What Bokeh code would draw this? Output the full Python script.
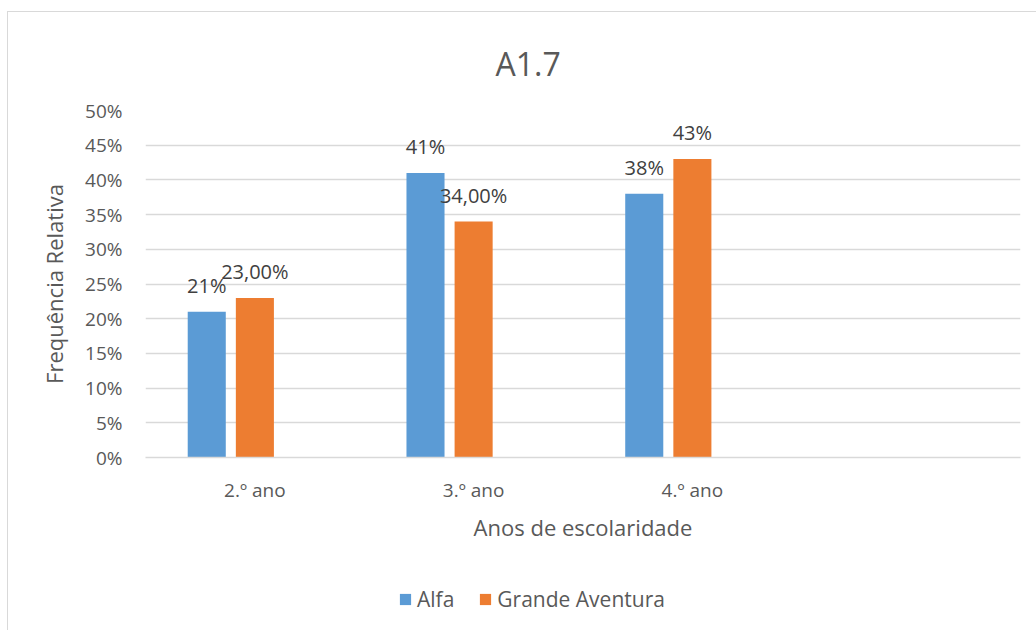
from bokeh.plotting import figure
from bokeh.layouts import column
from bokeh.models import (FactorRange, Range1d, NumeralTickFormatter, FixedTicker,
                          ColumnDataSource, LabelSet, Legend, LegendItem)
from bokeh.transform import dodge
from bokeh.core.properties import value
from bokeh.embed import file_html
from bokeh.resources import INLINE

# ---- data ----
title_text = "A1.7"
categories = ["2.º ano", "3.º ano", "4.º ano", " "]
bar_categories = ["2.º ano", "3.º ano", "4.º ano"]
series_names = ["Alfa", "Grande Aventura"]
alfa = [0.21, 0.41, 0.38]
grande = [0.23, 0.34, 0.43]
alfa_labels = ["21%", "41%", "38%"]
grande_labels = ["23,00%", "34,00%", "43%"]
y_ticks = [0.0, 0.05, 0.10, 0.15, 0.20, 0.25, 0.30, 0.35, 0.40, 0.45, 0.50]
x_title = "Anos de escolaridade"
y_title = "Frequência Relativa"

BLUE = "#5B9BD5"
ORANGE = "#ED7D31"
TEXT = "#595959"
LABEL = "#404040"
GRID = "#D9D9D9"
FONT = "Open Sans"

# ---------------- main chart ----------------
p = figure(width=1028, height=548,
           x_range=FactorRange(*categories, range_padding=0),
           y_range=Range1d(0, 0.5),
           output_backend="svg", toolbar_location=None,
           min_border_left=137, min_border_right=16,
           min_border_top=98, min_border_bottom=103)
p.outline_line_color = None
p.background_fill_color = "white"
p.border_fill_color = "white"

p.title.text = title_text
p.title.align = "left"
p.title.offset = 350
p.title.standoff = 51
p.title.text_font = FONT
p.title.text_font_size = "32px"
p.title.text_font_style = "normal"
p.title.text_color = TEXT

p.xgrid.visible = False
p.ygrid.grid_line_color = GRID
p.ygrid.grid_line_width = 1.5

yax = p.yaxis[0]
yax.ticker = FixedTicker(ticks=y_ticks)
yax.formatter = NumeralTickFormatter(format="0%")
yax.axis_line_color = None
yax.major_tick_line_color = None
yax.minor_tick_line_color = None
yax.major_tick_out = 0
yax.major_label_standoff = 23
yax.major_label_text_font = FONT
yax.major_label_text_font_size = "19px"
yax.major_label_text_color = TEXT
yax.axis_label = y_title
yax.axis_label_text_font = FONT
yax.axis_label_text_font_size = "22px"
yax.axis_label_text_font_style = "normal"
yax.axis_label_text_color = TEXT
yax.axis_label_standoff = 13

xax = p.xaxis[0]
xax.axis_line_color = GRID
xax.axis_line_width = 1.5
xax.major_tick_line_color = None
xax.minor_tick_line_color = None
xax.major_tick_out = 0
xax.major_label_standoff = 19
xax.major_label_text_font = FONT
xax.major_label_text_font_size = "19px"
xax.major_label_text_color = TEXT
xax.axis_label = x_title
xax.axis_label_text_font = FONT
xax.axis_label_text_font_size = "22px"
xax.axis_label_text_font_style = "normal"
xax.axis_label_text_color = TEXT
xax.axis_label_standoff = 6

src_a = ColumnDataSource(dict(cat=bar_categories, val=alfa, lab=alfa_labels))
src_g = ColumnDataSource(dict(cat=bar_categories, val=grande, lab=grande_labels))

BW = 0.174
OFF_A, OFF_G = -0.22, 0.0
p.vbar(x=dodge("cat", OFF_A, range=p.x_range), top="val", width=BW,
       source=src_a, fill_color=BLUE, line_color=None)
p.vbar(x=dodge("cat", OFF_G, range=p.x_range), top="val", width=BW,
       source=src_g, fill_color=ORANGE, line_color=None)

for src, off in ((src_a, OFF_A), (src_g, OFF_G)):
    p.add_layout(LabelSet(x=dodge("cat", off, range=p.x_range), y="val", text="lab",
                          source=src, y_offset=19, text_align="center",
                          text_baseline="alphabetic", text_font=value(FONT),
                          text_font_size=value("20px"), text_color=LABEL))

# ---------------- legend strip ----------------
# legend keys reuse the same sources; their bars lie outside this strip's y range
pl = figure(width=1028, height=70, x_range=Range1d(0, 1), y_range=Range1d(10, 11),
            output_backend="svg", toolbar_location=None,
            x_axis_location=None, y_axis_location=None, min_border=0)
pl.outline_line_color = None
pl.xgrid.visible = False
pl.ygrid.visible = False
pl.background_fill_color = "white"
pl.border_fill_color = "white"
key_a = pl.vbar(x="val", top="val", width=0.01, source=src_a,
                fill_color=BLUE, line_color=None)
key_g = pl.vbar(x="val", top="val", width=0.01, source=src_g,
                fill_color=ORANGE, line_color=None)

legend = Legend(items=[LegendItem(label=series_names[0], renderers=[key_a]),
                       LegendItem(label=series_names[1], renderers=[key_g])],
                orientation="horizontal", location=(253, 17),
                glyph_width=14, glyph_height=14, label_standoff=5, spacing=24,
                padding=0, margin=0, border_line_color=None,
                background_fill_alpha=0, label_text_font=FONT,
                label_text_font_size="21px", label_text_color=TEXT,
                label_height=14)
pl.add_layout(legend, "center")

layout = column(p, pl, spacing=0)
layout.margin = (11, 0, 0, 7)
layout.styles = {"border-left": "1px solid #D9D9D9", "border-top": "1px solid #D9D9D9"}

open("out.html", "w").write(file_html(layout, INLINE))
